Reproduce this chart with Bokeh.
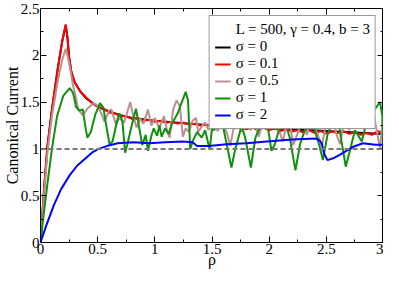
from bokeh.plotting import figure
from bokeh.models import Span, Legend, LegendItem, FixedTicker, LinearAxis, Range1d
from bokeh.embed import file_html
from bokeh.resources import INLINE

# ---------------- data ----------------
rho_s0 = [0, 0.03, 0.06, 0.1, 0.15, 0.19, 0.22, 0.235, 0.25, 0.27,
          0.3, 0.35, 0.4, 0.5, 0.6, 0.7, 0.8, 1.0, 1.2, 1.5,
          2.0, 2.5, 3.0]
cur_s0 = [0, 0.55, 1.02, 1.42, 1.85, 2.15, 2.32, 2.2, 1.98, 1.82,
          1.71, 1.61, 1.54, 1.45, 1.40, 1.36, 1.33, 1.30, 1.28, 1.25,
          1.22, 1.19, 1.16]

rho_s01 = [0, 0.03, 0.06, 0.1, 0.15, 0.19, 0.22, 0.235, 0.25, 0.27,
           0.3, 0.35, 0.4, 0.45, 0.5, 0.55, 0.6, 0.65, 0.7, 0.75,
           0.8, 0.85, 0.9, 0.95, 1.0, 1.05, 1.1, 1.15, 1.2, 1.25,
           1.3, 1.35, 1.4, 1.45, 1.5, 1.55, 1.6, 1.65, 1.7, 1.75,
           1.8, 1.85, 1.9, 1.95, 2.0, 2.05, 2.1, 2.15, 2.2, 2.25,
           2.3, 2.35, 2.4, 2.45, 2.5, 2.55, 2.6, 2.65, 2.7, 2.75,
           2.8, 2.85, 2.9, 2.95, 3.0]
cur_s01 = [0, 0.55, 1.02, 1.42, 1.85, 2.15, 2.33, 2.2, 1.98, 1.82,
           1.71, 1.61, 1.55, 1.49, 1.45, 1.43, 1.39, 1.38, 1.35, 1.35,
           1.32, 1.33, 1.30, 1.31, 1.29, 1.30, 1.28, 1.29, 1.27, 1.28,
           1.26, 1.27, 1.25, 1.26, 1.24, 1.25, 1.23, 1.245, 1.22, 1.24,
           1.21, 1.23, 1.20, 1.225, 1.20, 1.22, 1.19, 1.21, 1.185, 1.20,
           1.175, 1.20, 1.17, 1.19, 1.165, 1.185, 1.17, 1.19, 1.16, 1.18,
           1.15, 1.17, 1.15, 1.19, 1.17]

rho_s05 = [0, 0.03, 0.06, 0.1, 0.15, 0.19, 0.22, 0.24, 0.256, 0.284,
           0.31, 0.33, 0.37, 0.41, 0.465, 0.5, 0.535, 0.56, 0.6, 0.62,
           0.66, 0.69, 0.73, 0.785, 0.81, 0.84, 0.87, 0.9, 0.94, 0.97,
           1.0, 1.04, 1.08, 1.11, 1.13, 1.16, 1.19, 1.22, 1.245, 1.27,
           1.3, 1.33, 1.36, 1.38, 1.41, 1.44, 1.47, 1.51, 1.55, 1.59,
           1.63, 1.66, 1.69, 1.73, 1.76, 1.8, 1.84, 1.87, 1.91, 1.95,
           1.99, 2.04, 2.08, 2.12, 2.17, 2.21, 2.26, 2.29, 2.33, 2.37,
           2.41, 2.46, 2.5, 2.55, 2.59, 2.62, 2.66, 2.7, 2.75, 2.79,
           2.83, 2.87, 2.91, 2.94, 2.97, 3.0]
cur_s05 = [0, 0.5, 0.95, 1.35, 1.72, 1.95, 2.07, 1.98, 1.88, 1.68,
           1.55, 1.42, 1.36, 1.43, 1.49, 1.46, 1.37, 1.29, 1.41, 1.42,
           1.26, 1.33, 1.28, 1.5, 1.36, 1.23, 1.32, 1.27, 1.42, 1.25,
           1.33, 1.22, 1.35, 1.18, 1.12, 1.42, 1.52, 1.45, 1.13, 1.22,
           1.18, 1.30, 1.33, 1.18, 1.24, 1.28, 1.2, 1.30, 1.19, 1.28,
           1.17, 1.03, 1.23, 1.25, 1.18, 1.26, 1.20, 1.32, 1.13, 1.33,
           1.2, 1.37, 1.22, 1.08, 1.37, 1.04, 1.2, 1.32, 1.15, 1.37,
           1.2, 1.03, 1.28, 1.37, 1.15, 1.05, 1.32, 1.2, 1.37, 1.22,
           1.42, 1.48, 1.40, 1.2, 1.0, 1.42]

rho_s1 = [0, 0.03, 0.06, 0.1, 0.145, 0.2, 0.256, 0.284, 0.3, 0.31,
          0.34, 0.37, 0.395, 0.41, 0.44, 0.48, 0.52, 0.55, 0.576, 0.604,
          0.63, 0.67, 0.69, 0.716, 0.74, 0.76, 0.8, 0.835, 0.86, 0.89,
          0.92, 0.94, 0.97, 0.99, 1.02, 1.04, 1.06, 1.09, 1.12, 1.15,
          1.2, 1.23, 1.27, 1.29, 1.3, 1.31, 1.33, 1.37, 1.41, 1.44,
          1.48, 1.5, 1.52, 1.55, 1.6, 1.62, 1.67, 1.7, 1.76, 1.79,
          1.84, 1.88, 1.95, 1.98, 2.02, 2.05, 2.08, 2.13, 2.18, 2.23,
          2.27, 2.32, 2.36, 2.4, 2.44, 2.47, 2.51, 2.55, 2.59, 2.63,
          2.67, 2.71, 2.75, 2.79, 2.81, 2.85, 2.89, 2.94, 2.97, 2.99,
          3.0]
cur_s1 = [0, 0.32, 0.62, 1.0, 1.35, 1.57, 1.65, 1.6, 1.52, 1.45,
          1.41, 1.42, 1.22, 1.12, 1.18, 1.37, 1.49, 1.44, 1.24, 1.05,
          1.08, 1.30, 1.38, 1.3, 0.96, 1.05, 1.26, 1.43, 1.25, 1.04,
          1.15, 0.98, 1.14, 1.22, 1.14, 1.25, 1.13, 1.22, 1.16, 1.27,
          1.38, 1.48, 1.61, 1.52, 1.25, 1.0, 1.08, 1.18, 1.12, 1.2,
          0.99, 1.22, 1.2, 1.28, 1.22, 1.1, 0.8, 0.98, 1.25, 1.12,
          0.8, 1.12, 1.33, 1.3, 0.98, 1.05, 1.18, 1.33, 1.12, 0.77,
          1.05, 1.23, 1.28, 1.2, 1.03, 0.88, 1.15, 1.28, 1.43, 1.1,
          0.81, 1.0, 1.2, 1.12, 1.08, 1.28, 1.36, 1.45, 1.5, 1.35,
          1.05]

rho_s2 = [0, 0.05, 0.117, 0.18, 0.256, 0.32, 0.395, 0.45, 0.507, 0.58,
          0.674, 0.813, 0.952, 1.09, 1.245, 1.33, 1.37, 1.47, 1.63, 1.8,
          1.98, 2.2, 2.41, 2.44, 2.46, 2.48, 2.51, 2.56, 2.62, 2.73,
          2.82, 2.93, 3.0]
cur_s2 = [0, 0.18, 0.40, 0.57, 0.72, 0.82, 0.90, 0.96, 1.0, 1.03,
          1.06, 1.07, 1.06, 1.07, 1.08, 1.07, 1.03, 1.03, 1.05, 1.06,
          1.08, 1.1, 1.11, 1.09, 1.06, 0.95, 0.88, 0.9, 0.94, 1.02,
          1.06, 1.045, 1.045]

reference_level = 1.0

x_ticks = [0, 0.5, 1, 1.5, 2, 2.5, 3]
x_tick_labels = ["0", "0.5", "1", "1.5", "2", "2.5", "3"]
x_minor = [0.25, 0.75, 1.25, 1.75, 2.25, 2.75]
y_ticks = [0, 0.5, 1, 1.5, 2, 2.5]
y_tick_labels = ["0", "0.5", "1", "1.5", "2", "2.5"]
y_minor = [0.25, 0.75, 1.25, 1.75, 2.25]

legend_title = "L = 500, \u03b3 = 0.4, b = 3"
labels = ["\u03c3 = 0", "\u03c3 = 0.1", "\u03c3 = 0.5", "\u03c3 = 1", "\u03c3 = 2"]
colors = ["#000000", "#ff0000", "#bc8f8f", "#10900f", "#0000ff"]

FONT = "Liberation Serif"

# ---------------- figure ----------------
p = figure(width=383, height=270, output_backend="svg", toolbar_location=None,
           x_range=Range1d(0, 3), y_range=Range1d(0, 2.5),
           min_border_left=0, min_border_right=0, min_border_top=8, min_border_bottom=0,
           x_axis_label="\u03c1", y_axis_label="Canonical Current")
p.grid.visible = False
p.outline_line_color = "black"
p.outline_line_width = 1
p.background_fill_color = "white"

xt = FixedTicker(ticks=x_ticks, minor_ticks=x_minor)
yt = FixedTicker(ticks=y_ticks, minor_ticks=y_minor)

def style_axis(ax, show_labels):
    ax.major_tick_in = 6
    ax.major_tick_out = 0
    ax.minor_tick_in = 3
    ax.minor_tick_out = 0
    ax.axis_line_color = "black"
    ax.major_tick_line_color = "black"
    ax.minor_tick_line_color = "black"
    ax.major_label_text_font = FONT
    ax.major_label_text_color = "black"
    ax.major_label_text_font_size = "15px"
    ax.major_label_standoff = 1 if show_labels else 0
    ax.axis_label_text_font = FONT
    ax.axis_label_text_font_style = "normal"
    ax.axis_label_text_font_size = "16px"
    ax.axis_label_text_color = "black"
    ax.axis_label_standoff = 0

p.xaxis.ticker = xt
p.yaxis.ticker = yt
p.xaxis.major_label_overrides = {t: s for t, s in zip(x_ticks, x_tick_labels)}
p.yaxis.major_label_overrides = {t: s for t, s in zip(y_ticks, y_tick_labels)}
style_axis(p.xaxis[0], True)
style_axis(p.yaxis[0], True)
p.xaxis[0].axis_label_standoff = -6
p.yaxis[0].axis_label_standoff = -3

top_ax = LinearAxis(ticker=FixedTicker(ticks=x_ticks, minor_ticks=x_minor))
right_ax = LinearAxis(ticker=FixedTicker(ticks=y_ticks, minor_ticks=y_minor))
style_axis(top_ax, False)
style_axis(right_ax, False)
top_ax.major_label_overrides = {t: "" for t in x_ticks}
right_ax.major_label_overrides = {t: "" for t in y_ticks}
p.add_layout(top_ax, "above")
p.add_layout(right_ax, "right")

p.add_layout(Span(location=reference_level, dimension="width", line_color="#777777",
                  line_width=2, line_dash="5 3"))

series = [(rho_s0, cur_s0), (rho_s01, cur_s01), (rho_s05, cur_s05),
          (rho_s1, cur_s1), (rho_s2, cur_s2)]
renderers = []
for (xs, ys), c in zip(series, colors):
    renderers.append(p.line(xs, ys, line_color=c, line_width=2))

title_r = p.line([], [], line_alpha=0)

items = [LegendItem(label=legend_title, renderers=[title_r])]
items += [LegendItem(label=l, renderers=[r]) for l, r in zip(labels, renderers)]
legend = Legend(items=items, location="top_right", margin=7,
                label_text_font=FONT, label_text_font_size="15px",
                label_text_color="black", label_standoff=5,
                glyph_width=16, glyph_height=10, label_height=10,
                spacing=-4, padding=5,
                border_line_color="#333333", border_line_width=1,
                background_fill_color="white", background_fill_alpha=1)
p.add_layout(legend)

open("out.html", "w").write(file_html(p, INLINE))
